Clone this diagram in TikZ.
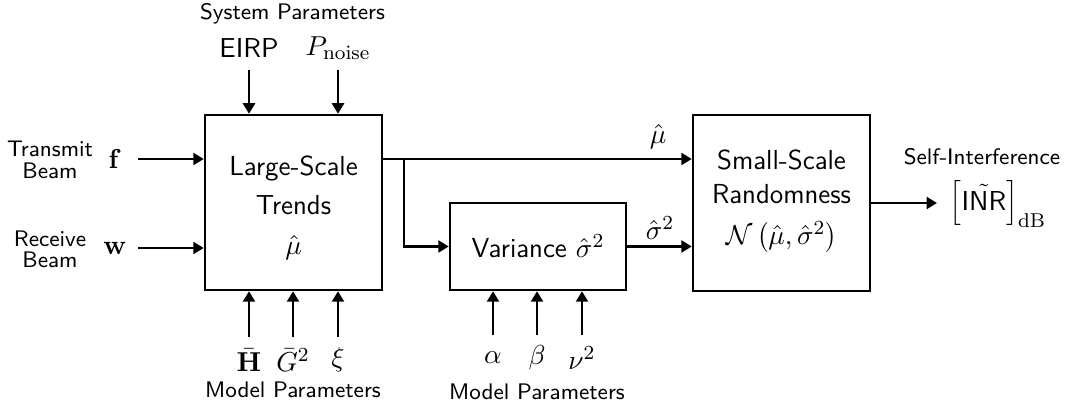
\documentclass[tikz,border=0pt]{standalone}
\usetikzlibrary{arrows.meta}
\begin{document}
\begin{tikzpicture}[x=0.4pt,y=-0.4pt,
  every node/.style={font=\fontsize{11}{13}\selectfont},
  box/.style={draw, line width=1pt, inner sep=0pt},
  arr/.style={-{Triangle[length=4.2pt,width=4.8pt]}, line width=1pt},
  txt/.style={font=\fontsize{11}{13}\selectfont\sffamily, inner sep=0pt},
  small/.style={font=\fontsize{9}{10.5}\selectfont\sffamily, inner sep=0pt, align=center},
  mth/.style={inner sep=0pt}]
\useasboundingbox (0,0) rectangle (1065,411);

% blocks
\node[box, minimum width=70.8pt, minimum height=70pt] (lst) at (293.5,202.5) {};
\node[box, minimum width=70.4pt, minimum height=34.8pt, font=\fontsize{11}{13}\selectfont\sffamily] (var) at (538,246.5) {Variance $\hat{\sigma}^2$};
\node[box, minimum width=70.8pt, minimum height=70.4pt] (ssr) at (781.5,203) {};

% texts in blocks
\node[txt] (lst1) at (293.5,168) {Large-Scale};
\node[txt] (lst2) at (293.5,205) {Trends};
\node[mth] (lst3) at (293.5,248) {$\hat{\mu}$};
\node[txt] (ssr1) at (781.5,160) {Small-Scale};
\node[txt] (ssr2) at (781.5,194) {Randomness};
\node[mth] (ssr3) at (781.5,237) {$\mathcal{N}\left(\hat{\mu},\hat{\sigma}^2\right)$};

% system parameters
\node[small] (sys) at (292.5,14) {System Parameters};
\node[mth] (eirp) at (249,48) {$\mathsf{EIRP}$};
\node[mth] (pn) at (338,48) {$P_{\mathrm{noise}}$};
\coordinate (eirpS) at (249,70);
\coordinate (pnS) at (338,70);
\draw[arr] (eirpS) -- (eirpS |- lst.north);
\draw[arr] (pnS) -- (pnS |- lst.north);

% beams
\node[small] (tx) at (50,160) {Transmit\\[-2pt]Beam};
\node[small] (rx) at (50,249) {Receive\\[-2pt]Beam};
\node[mth] (f) at (115,159) {$\mathbf{f}$};
\node[mth] (w) at (115,248) {$\mathbf{w}$};
\coordinate (fS) at (138,159);
\coordinate (wS) at (138,248);
\draw[arr] (fS) -- (fS -| lst.west);
\draw[arr] (wS) -- (wS -| lst.west);

% model parameters 1
\node[mth] (H) at (249,360) {$\bar{\mathbf{H}}$};
\node[mth] (G) at (293,360) {$\bar{G}^2$};
\node[mth] (xi) at (338,360) {$\xi$};
\node[small] (mp1) at (293,390) {Model Parameters};
\coordinate (HS) at (249,337);
\coordinate (GS) at (293,337);
\coordinate (xiS) at (338,337);
\draw[arr] (HS) -- (HS |- lst.south);
\draw[arr] (GS) -- (GS |- lst.south);
\draw[arr] (xiS) -- (xiS |- lst.south);

% model parameters 2
\node[mth] (al) at (493,358) {$\alpha$};
\node[mth] (be) at (537,358) {$\beta$};
\node[mth] (nu) at (582,358) {$\nu^2$};
\node[small] (mp2) at (537,392) {Model Parameters};
\coordinate (alS) at (493,335);
\coordinate (beS) at (537,335);
\coordinate (nuS) at (582,335);
\draw[arr] (alS) -- (alS |- var.south);
\draw[arr] (beS) -- (beS |- var.south);
\draw[arr] (nuS) -- (nuS |- var.south);

% mean and variance paths
\coordinate (br) at (404,159);
\draw[arr] (lst.east |- br) -- (ssr.west |- br);
\draw[arr] (br) |- (var.west);
\draw[arr] (var.east) -- (var.east -| ssr.west);
\node[mth] (mulbl) at (658,137) {$\hat{\mu}$};
\node[mth] (siglbl) at (660,228) {$\hat{\sigma}^2$};

% output
\coordinate (outE) at (937,203);
\draw[arr] (ssr.east) -- (outE);
\node[small] (si) at (982,157) {Self-Interference};
\node[mth] (inr) at (998,204) {$\Big[\tilde{\mathsf{INR}}\Big]_{\mathrm{dB}}$};
\end{tikzpicture}
\end{document}
